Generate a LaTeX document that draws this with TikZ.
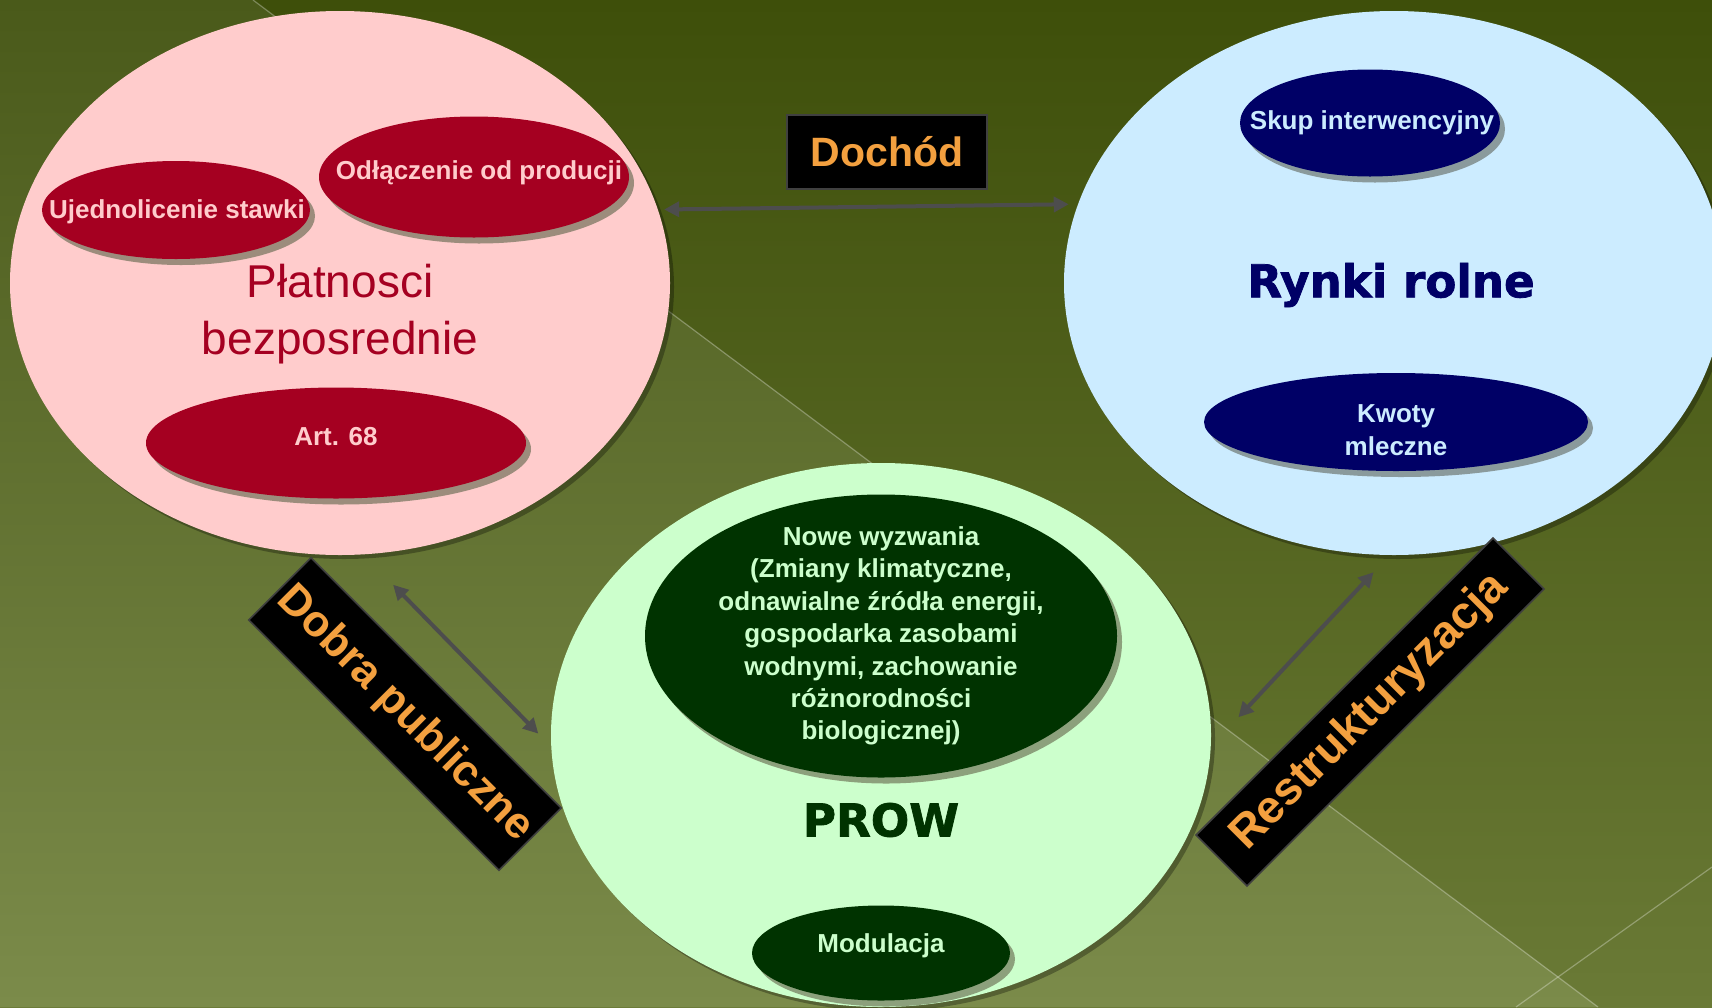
\documentclass[tikz,border=0pt]{standalone}
\usepackage{fontspec}
\setmainfont{Liberation Sans}
\newfontfamily\heavyfont{DejaVu Sans}[BoldFeatures={FakeBold=1.6}]
\usetikzlibrary{shapes.geometric, arrows.meta, shadows}

\definecolor{olivetop}{HTML}{3E4F0A}
\definecolor{olivebot}{HTML}{6A7A36}
\definecolor{olivelight}{HTML}{4A5A1A}
\definecolor{olivelightbot}{HTML}{7B8B4A}
\definecolor{platpink}{HTML}{FFCCCC}
\definecolor{platred}{HTML}{A50021}
\definecolor{redshade}{HTML}{9C8C7C}
\definecolor{rynkisky}{HTML}{CCECFF}
\definecolor{rynkinavy}{HTML}{000066}
\definecolor{navyshade}{HTML}{8A9A9C}
\definecolor{prowmint}{HTML}{CCFFCC}
\definecolor{prowdark}{HTML}{003300}
\definecolor{greenshade}{HTML}{8CA07C}
\definecolor{tagorange}{HTML}{F3A03F}
\definecolor{tagrim}{HTML}{404040}
\definecolor{linkgray}{HTML}{4D4D4D}

\begin{document}
\begin{tikzpicture}[x=0.5pt, y=-0.5pt,
    bigblob/.style={ellipse, inner sep=0pt, minimum width=330pt, minimum height=272pt,
      drop shadow={shadow xshift=2pt, shadow yshift=-2pt, fill=black, opacity=0.3}},
    blob/.style={ellipse, inner sep=0pt,
      drop shadow={shadow xshift=2.5pt, shadow yshift=-3pt, fill=#1, opacity=1}},
    blobtext/.style={font=\bfseries\fontsize{13pt}{16.2pt}\selectfont, align=center, inner sep=0pt},
    heavytext/.style={font=\heavyfont\bfseries\fontsize{22.6pt}{27pt}\selectfont, inner sep=0pt},
    tag/.style={fill=black, draw=tagrim, line width=0.8pt, text=tagorange, inner sep=0pt,
      font=\bfseries\fontsize{22pt}{26pt}\selectfont},
    link/.style={draw=linkgray, line width=2pt,
      arrows={Triangle[length=7.5pt,width=7.5pt]-Triangle[length=7.5pt,width=7.5pt]}}]

	\useasboundingbox (0,0) rectangle (1712,1007);
	\clip (0,0) rectangle (1712,1007);

	% background
	\shade[top color=olivetop, bottom color=olivebot] (0,0) rectangle (1712,1007);
	\shade[top color=olivelight, bottom color=olivelightbot] (0,0) -- (253,0) -- (1598,1007) -- (0,1007) -- cycle;
	\draw[white, opacity=0.3, line width=0.6pt] (253,0) -- (1598,1007);
	\draw[white, opacity=0.3, line width=0.6pt] (1516,1007) -- (1712,867);

	% the three big fields
	\node[bigblob, fill=platpink] (plat) at (340,283) {};
	\node[bigblob, fill=rynkisky] (rynki) at (1394,283) {};
	\node[bigblob, fill=prowmint] (prow) at (881,735) {};

	% Platnosci bezposrednie
	\node[blob=redshade, fill=platred, minimum width=134pt, minimum height=49pt] (ujed) at (176,210) {};
	\node[blob=redshade, fill=platred, minimum width=155pt, minimum height=60.5pt] (odl) at (474,177) {};
	\node[blob=redshade, fill=platred, minimum width=190pt, minimum height=55.5pt] (art) at (336,443) {};
	\node[blobtext, text=platpink] (ujedtext) at (177,212) {Ujednolicenie stawki};
	\node[blobtext, text=platpink] (odltext) at (479,173) {Odłączenie od producji};
	\node[blobtext, text=platpink] (arttext) at (336,437) {Art. 68};
	\node[align=center, text=platred, inner sep=0pt, font=\fontsize{23pt}{28.5pt}\selectfont] (plattext) at (340,314) {Płatnosci\\bezposrednie};

	% Rynki rolne
	\node[blob=navyshade, fill=rynkinavy, minimum width=130pt, minimum height=53.5pt] (skup) at (1370,123) {};
	\node[blob=navyshade, fill=rynkinavy, minimum width=192pt, minimum height=49pt] (kwoty) at (1396,422) {};
	\node[blobtext, text=rynkisky] (skuptext) at (1372,123) {Skup interwencyjny};
	\node[blobtext, text=rynkisky] (kwotytext) at (1396,430) {Kwoty\\mleczne};
	\node[heavytext, text=rynkinavy] (rynkitext) at (1391,285) {Rynki rolne};

	% PROW
	\node[blob=greenshade, fill=prowdark, minimum width=236pt, minimum height=141.5pt] (nowe) at (881,636) {};
	\node[blob=greenshade, fill=prowdark, minimum width=129pt, minimum height=47.5pt] (modul) at (881,953) {};
	\node[blobtext, text=prowmint] (nowetext) at (881,636) {Nowe wyzwania\\(Zmiany klimatyczne,\\odnawialne źródła energii,\\gospodarka zasobami\\wodnymi, zachowanie\\różnorodności\\biologicznej)};
	\node[blobtext, text=prowmint] (modultext) at (881,946) {Modulacja};
	\node[heavytext, text=prowdark] (prowtext) at (881,820) {PROW};

	% links
	\draw[link, shorten <=3pt, shorten >=4.5pt] (plat.13.5) -- (rynki.166.5);
	\draw[link, shorten <=21pt, shorten >=9pt] (plat.-85.8) -- (prow.182.3);
	\draw[link, shorten <=11.5pt, shorten >=20pt] (rynki.-91.7) -- (prow.-2.4);

	% tags
	\node[tag, minimum width=100pt, minimum height=37pt, font=\bfseries\fontsize{20.5pt}{24pt}\selectfont] (dochod) at (887,152) {Dochód};
	\node[tag, minimum width=177pt, minimum height=44pt, rotate=-45] (dobra) at (405,714) {Dobra publiczne};
	\node[tag, minimum width=210pt, minimum height=36pt, rotate=45, font=\bfseries\fontsize{23pt}{27pt}\selectfont] (restr) at (1370,712) {Restrukturyzacja};
\end{tikzpicture}
\end{document}
